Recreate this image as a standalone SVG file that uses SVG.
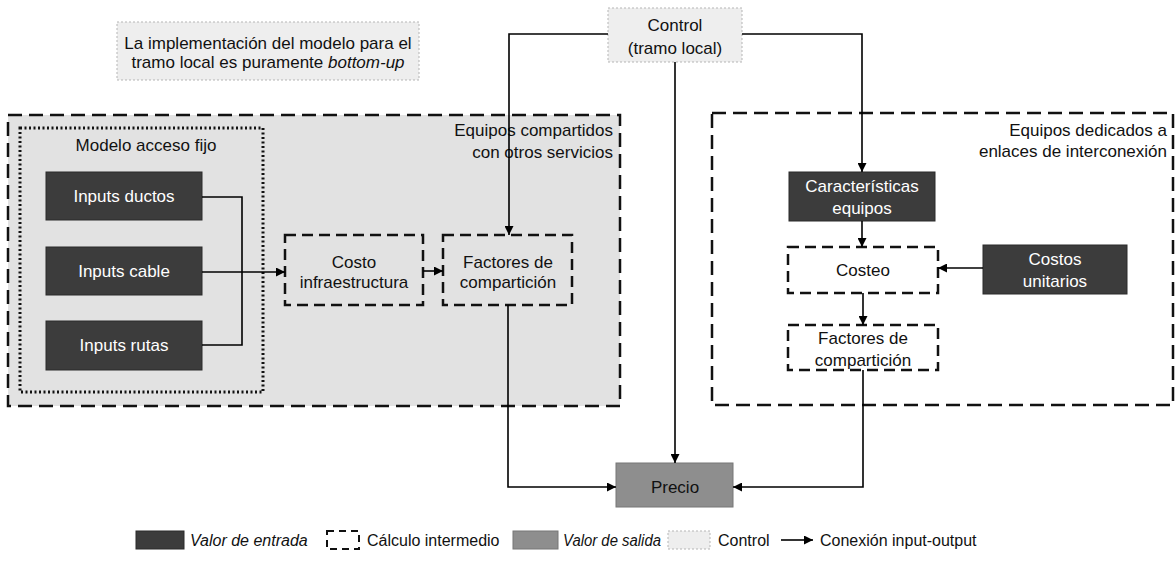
<svg xmlns="http://www.w3.org/2000/svg" width="1175" height="571" viewBox="0 0 1175 571">
<defs>
<marker id="arr" viewBox="0 0 10 10" refX="10" refY="5" markerWidth="9" markerHeight="9" markerUnits="userSpaceOnUse" orient="auto">
<path d="M0,0 L10,5 L0,10 z" fill="#000"/>
</marker>
</defs>
<style>
text{font-family:"Liberation Sans",Arial,sans-serif;font-size:17px;fill:#111;}
.c{text-anchor:middle;}
.e{text-anchor:end;}
.w{fill:#fff;}
.in{fill:#3c3c3c;stroke:#2a2a2a;stroke-width:1;}
.calc{fill:none;stroke:#111;stroke-width:2.5;stroke-dasharray:11 6;}
.calcw{fill:#fff;stroke:#111;stroke-width:2.5;stroke-dasharray:11 6;}
.grp{stroke:#111;stroke-width:2.5;stroke-dasharray:14 7;}
.ctl{fill:#eeeeee;stroke:#b5b5b5;stroke-width:1;stroke-dasharray:2 2;}
.out{fill:#8e8e8e;stroke:#777;stroke-width:1;}
.con{fill:none;stroke:#000;stroke-width:1.6;}
.lg{font-size:16px;}
.it{font-style:italic;}
</style>
<g id="note">
<rect x="117" y="22" width="302" height="58" class="ctl" stroke="none" fill="#f2f2f2"/>
<text x="268" y="49" class="c">La implementación del modelo para el</text>
<text x="268" y="68" class="c">tramo local es puramente <tspan class="it">bottom-up</tspan></text>
</g>
<g id="grupo-compartidos">
<rect x="8" y="115" width="612" height="291" class="grp" fill="#e2e2e2"/>
<text x="613" y="136" class="e">Equipos compartidos</text>
<text x="613" y="158" class="e">con otros servicios</text>
</g>
<g id="modelo-acceso-fijo">
<rect x="20" y="128" width="243" height="264" fill="none" stroke="#111" stroke-width="3" stroke-dasharray="2 2.5"/>
<text x="146" y="151" class="c">Modelo acceso fijo</text>
</g>
<g id="grupo-dedicados">
<rect x="712" y="113" width="461" height="292" class="grp" fill="#fff"/>
<text x="1167" y="136" class="e">Equipos dedicados a</text>
<text x="1167" y="157" class="e">enlaces de interconexión</text>
</g>
<g id="control">
<rect x="608" y="8" width="134" height="54" class="ctl"/>
<text x="675" y="31" class="c">Control</text>
<text x="675" y="54" class="c">(tramo local)</text>
</g>
<g id="inputs-ductos">
<rect x="46" y="172" width="156" height="48" class="in"/>
<text x="124" y="202" class="c w">Inputs ductos</text>
</g>
<g id="inputs-cable">
<rect x="46" y="247" width="156" height="48" class="in"/>
<text x="124" y="277" class="c w">Inputs cable</text>
</g>
<g id="inputs-rutas">
<rect x="46" y="321" width="156" height="49" class="in"/>
<text x="124" y="351" class="c w">Inputs rutas</text>
</g>
<g id="costo-infraestructura">
<rect x="285" y="235" width="138" height="70" class="calc"/>
<text x="354" y="268" class="c">Costo</text>
<text x="354" y="288" class="c">infraestructura</text>
</g>
<g id="factores-compartidos">
<rect x="443" y="235" width="129" height="70" class="calc"/>
<text x="508" y="268" class="c">Factores de</text>
<text x="508" y="288" class="c">compartición</text>
</g>
<g id="caracteristicas-equipos">
<rect x="789" y="172" width="146" height="49" class="in"/>
<text x="862" y="192" class="c w">Características</text>
<text x="862" y="214" class="c w">equipos</text>
</g>
<g id="costeo">
<rect x="788" y="247" width="150" height="46" class="calcw"/>
<text x="863" y="276" class="c">Costeo</text>
</g>
<g id="costos-unitarios">
<rect x="983" y="245" width="144" height="49" class="in"/>
<text x="1055" y="265" class="c w">Costos</text>
<text x="1055" y="287" class="c w">unitarios</text>
</g>
<g id="factores-dedicados">
<rect x="788" y="325" width="150" height="45" class="calcw"/>
<text x="863" y="344" class="c">Factores de</text>
<text x="863" y="366" class="c">compartición</text>
</g>
<g id="precio">
<rect x="616" y="463" width="117" height="44" class="out"/>
<text x="675" y="493" class="c">Precio</text>
</g>
<g id="connectors">
<path class="con" d="M202,197 H242 V345 H202"/>
<path class="con" d="M202,272 H285" marker-end="url(#arr)"/>
<path class="con" d="M423,271 H443" marker-end="url(#arr)"/>
<path class="con" d="M608,34 H509 V235" marker-end="url(#arr)"/>
<path class="con" d="M742,34 H862 V172" marker-end="url(#arr)"/>
<path class="con" d="M675,62 V463" marker-end="url(#arr)"/>
<path class="con" d="M508,305 V487 H616" marker-end="url(#arr)"/>
<path class="con" d="M862,221 V247" marker-end="url(#arr)"/>
<path class="con" d="M983,268 H938" marker-end="url(#arr)"/>
<path class="con" d="M863,293 V325" marker-end="url(#arr)"/>
<path class="con" d="M863,370 V487 H733" marker-end="url(#arr)"/>
</g>
<g id="legend">
<rect x="136" y="531" width="48" height="18" class="in"/>
<text x="190" y="546" class="lg it">Valor de entrada</text>
<rect x="327" y="531" width="32" height="18" fill="none" stroke="#111" stroke-width="2" stroke-dasharray="7 5"/>
<text x="367" y="546" class="lg">Cálculo intermedio</text>
<rect x="513" y="531" width="45" height="18" class="out"/>
<text x="563" y="546" class="lg it" textLength="98" lengthAdjust="spacingAndGlyphs">Valor de salida</text>
<rect x="668" y="531" width="42" height="18" class="ctl"/>
<text x="718" y="546" class="lg">Control</text>
<path class="con" d="M781,540 H813" marker-end="url(#arr)"/>
<text x="820" y="546" class="lg">Conexión input-output</text>
</g>
</svg>
